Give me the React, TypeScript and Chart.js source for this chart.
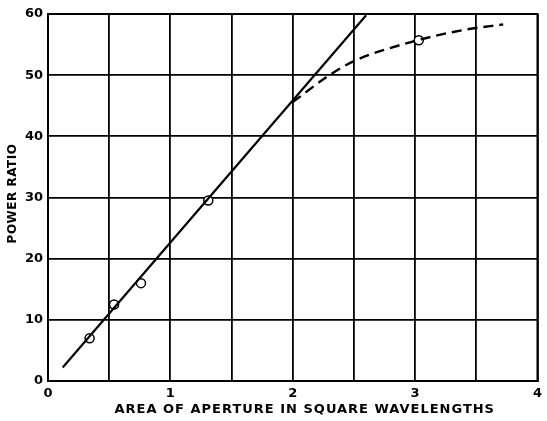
import React, { useEffect, useRef } from "react";
import { Chart, registerables } from "chart.js";

Chart.register(...registerables);

const xTickLabels = ["0", "1", "2", "3", "4"];
const yTickLabels = ["0", "10", "20", "30", "40", "50", "60"];

const measuredX = [0.34, 0.54, 0.76, 1.31, 3.03];
const measuredY = [7.0, 12.5, 16.0, 29.5, 55.7];

const straightX = [0.12, 2.6];
const straightY = [2.2, 59.8];

const curveX = [2.0, 2.3, 2.5, 3.0, 3.4, 3.72];
const curveY = [45.6, 50.0, 52.3, 55.6, 57.4, 58.3];

const xTitle = "AREA OF APERTURE IN SQUARE WAVELENGTHS";
const yTitle = "POWER RATIO";

const FONT = "'DejaVu Sans', sans-serif";

export default function App() {
  const ref = useRef<HTMLCanvasElement | null>(null);
  useEffect(() => {
    document.body.style.margin = "0";
    const ctx = ref.current!;
    const toPts = (xs: number[], ys: number[]) => xs.map((x, i) => ({ x, y: ys[i] }));
    const chart = new Chart(ctx, {
      type: "scatter",
      data: {
        datasets: [
          {
            data: toPts(straightX, straightY),
            showLine: true,
            borderColor: "#000",
            borderWidth: 2.2,
            pointRadius: 0,
          },
          {
            data: toPts(curveX, curveY),
            showLine: true,
            borderColor: "#000",
            borderWidth: 2.4,
            borderDash: [10, 6],
            tension: 0.4,
            cubicInterpolationMode: "monotone",
            pointRadius: 0,
          },
          {
            data: toPts(measuredX, measuredY),
            showLine: false,
            pointRadius: 4.5,
            pointBackgroundColor: "#fff",
            pointBorderColor: "#000",
            pointBorderWidth: 1.5,
          },
        ],
      },
      options: {
        responsive: false,
        animation: false,
        layout: { padding: { top: 14, right: 5, left: 0, bottom: 0 } },
        plugins: { legend: { display: false }, tooltip: { enabled: false } },
        scales: {
          x: {
            type: "linear",
            min: 0,
            max: 4,
            afterFit: (s: any) => { s.height = 40; },
            afterBuildTicks: (s: any) => {
              s.ticks = [0, 0.5, 1, 1.5, 2, 2.5, 3, 3.5, 4].map((v) => ({ value: v }));
            },
            ticks: {
              color: "#000",
              font: { family: FONT, size: 13, weight: "bold" },
              padding: 5,
              maxRotation: 0,
              autoSkip: false,
              callback: (v: any) => (Number.isInteger(v) ? xTickLabels[v] : ""),
            },
            grid: { color: "#000", lineWidth: 1.8, drawTicks: false },
            border: { color: "#000", width: 2 },
          },
          y: {
            type: "linear",
            min: 0,
            max: 60,
            afterFit: (s: any) => { s.width = 48; },
            ticks: {
              stepSize: 10,
              color: "#000",
              font: { family: FONT, size: 13, weight: "bold" },
              padding: 5,
              callback: (v: any) => yTickLabels[Math.round(v / 10)],
            },
            grid: { color: "#000", lineWidth: 1.8, drawTicks: false },
            border: { color: "#000", width: 2 },
          },
        },
      },
      plugins: [
        {
          id: "frameAndTitles",
          afterDraw(c: any) {
            const { left, right, top, bottom } = c.chartArea;
            const g = c.ctx;
            g.save();
            g.strokeStyle = "#000";
            g.lineWidth = 2;
            g.strokeRect(left, top, right - left, bottom - top);
            g.fillStyle = "#000";
            g.textAlign = "center";
            g.textBaseline = "middle";
            g.font = "bold 13px " + FONT;
            (g as any).letterSpacing = "1px";
            g.fillText(xTitle, (left + right) / 2 + 12, bottom + 29);
            g.translate(13, (top + bottom) / 2 - 4);
            g.rotate(-Math.PI / 2);
            g.font = "bold 12px " + FONT;
            (g as any).letterSpacing = "0.5px";
            g.fillText(yTitle, 0, 0);
            g.restore();
          },
        },
      ],
    });
    return () => chart.destroy();
  }, []);
  return <canvas ref={ref} width={547} height={421} style={{ display: "block" }} />;
}
